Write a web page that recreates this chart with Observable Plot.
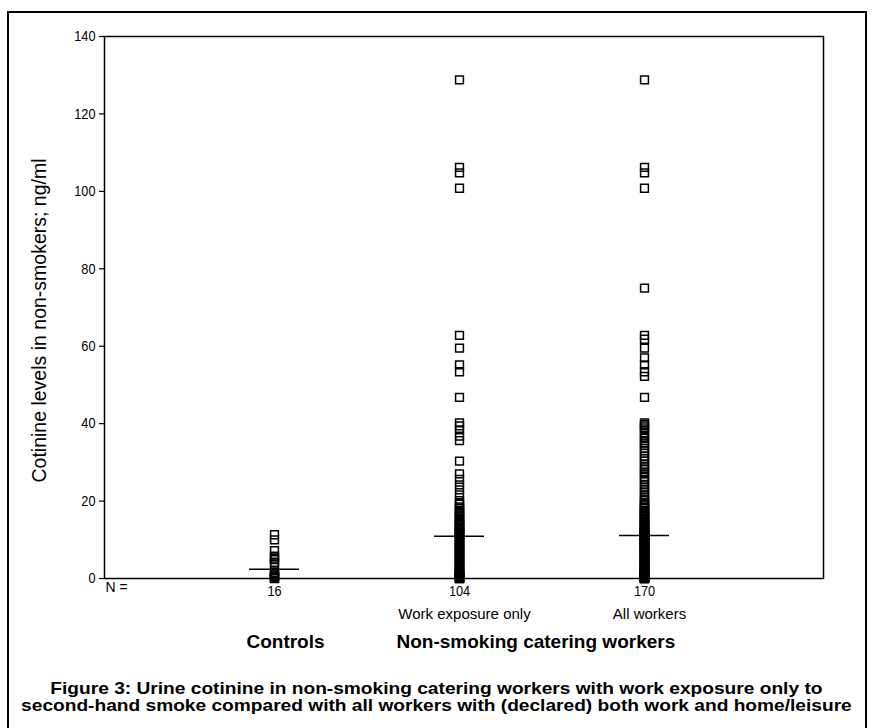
<!DOCTYPE html>
<html><head><meta charset="utf-8">
<script src="https://cdn.jsdelivr.net/npm/d3@7"></script>
<script src="https://cdn.jsdelivr.net/npm/@observablehq/plot@0.6"></script>
<style>
body{margin:0;background:#fff;}
#wrap{position:relative;width:873px;height:728px;overflow:hidden;font-family:"Liberation Sans",Arial,sans-serif;color:#000;}
#frame{position:absolute;left:7px;top:11px;width:856px;height:760px;border:2px solid #000;pointer-events:none;}
#chart{position:absolute;left:0;top:0;}
#caption{position:absolute;left:0;width:873px;top:680px;text-align:center;font-weight:bold;font-size:16.5px;line-height:17px;white-space:nowrap;transform:scaleX(1.16);transform-origin:437px 0;}
</style></head><body>
<div id="wrap">
<div id="chart"></div>
<div id="caption">Figure 3: Urine cotinine in non-smoking catering workers with work exposure only to<br>second-hand smoke compared with all workers with (declared) both work and home/leisure</div>
<div id="frame"></div>
</div>
<script>
// ---- data ----
const groups = ["Controls", "Work exposure only", "All workers"];
const groupN = [16, 104, 170];
const subLabels = ["", "Work exposure only", "All workers"];
const medians = [2.4, 10.9, 11.1];
const yTicks = [0, 20, 40, 60, 80, 100, 120, 140];
const yLabel = "Cotinine levels in non-smokers; ng/ml";
const headings = ["Controls", "Non-smoking catering workers"];
const headingAt = ["Controls", "Work exposure only"];

const controls = [11.3, 10.0, 7.2, 5.8, 5.3, 4.9, 4.2, 3.7, 1.6, 1.2, 0.9, 0.6, 0.4, 0.3, 0.1, 0.0];

const workOnly = [
  128.8, 106.2, 104.8, 100.8, 62.8, 59.5, 55.2, 53.4, 46.8, 40.2,
  39.4, 38.4, 36.8, 35.6, 30.3, 27.0, 25.6, 24.2, 22.9, 21.6,
  20.1, 19.4, 19.2, 18.5, 18.1, 17.6, 17.0, 16.8, 16.1, 15.9,
  15.3, 15.0, 14.8, 14.2, 14.0, 13.7, 13.3, 13.1, 12.8, 12.7,
  12.3, 12.0, 12.0, 11.8, 11.6, 11.4, 11.2, 11.0, 17.4, 16.5,
  14.6, 13.9,
  10.8, 10.5, 10.3, 10.0, 9.8, 9.6, 9.2, 9.0, 8.7, 8.5,
  8.1, 8.0, 7.7, 7.4, 7.2, 7.0, 6.6, 6.4, 6.1, 5.9,
  5.7, 5.3, 5.0, 4.8, 4.6, 4.2, 4.0, 3.8, 3.5, 3.3,
  3.0, 2.8, 2.5, 2.3, 2.1, 1.8, 1.6, 1.4, 1.2, 1.0,
  0.9, 0.7, 0.6, 0.5, 0.4, 0.3, 0.2, 0.2, 0.1, 0.1,
  0.0, 0.0
];

// workers who also declared home/leisure exposure
const homeLeisureExtra = [
  75.0, 61.8, 57.0, 52.2,
  39.8, 38.9, 37.5, 36.2, 35.0, 34.4, 33.6, 33.0, 32.3, 31.6,
  31.0, 29.5, 28.8, 28.1, 27.4, 26.3, 25.1, 23.6, 22.4, 21.1,
  20.4, 19.0, 18.3, 17.2, 16.3, 15.6, 14.4, 13.4, 12.5, 11.9, 11.5, 11.1, 11.3,
  10.9, 10.6, 10.1, 9.5, 9.1, 8.8, 8.3, 7.9, 7.5, 6.9,
  6.3, 5.6, 5.1, 4.4, 3.9, 3.4, 2.9, 2.6, 2.2, 1.9,
  1.5, 1.1, 0.8, 0.6, 0.4, 0.3, 0.2, 0.1, 0.0
];
const allWorkers = workOnly.concat(homeLeisureExtra);

// ---- tables for the library ----
const series = [controls, workOnly, allWorkers];
const points = groups.flatMap((g, i) => series[i].map(v => ({group: g, value: v})));
const medianRows = groups.map((g, i) => ({group: g, value: medians[i]}));
const subRows = groups.map((g, i) => ({group: g, text: subLabels[i]}));
const headRows = headings.map((h, i) => ({group: headingAt[i], text: h, first: i === 0}));
const nOf = new Map(groups.map((g, i) => [g, String(groupN[i])]));

const font = '"Liberation Sans",Arial,sans-serif';

const chart = Plot.plot({
  width: 873,
  height: 670,
  marginLeft: 104,
  marginRight: 50,
  marginTop: 36,
  marginBottom: 92,
  style: {fontFamily: font, fontSize: "15px", color: "#000", background: "transparent"},
  x: {type: "band", domain: groups, paddingInner: 0.73, paddingOuter: 0.8, align: 0.485},
  y: {domain: [0, 140]},
  marks: [
    Plot.frame({stroke: "#000", strokeWidth: 1.5}),
    Plot.axisY({ticks: yTicks, tickSize: 5, tickPadding: 4, label: null, strokeWidth: 1.2}),
    Plot.axisX({tickSize: 4, tickPadding: 3, label: null, tickFormat: d => nOf.get(d)}),
    Plot.text([yLabel], {frameAnchor: "left", textAnchor: "middle", rotate: -90, dx: -65, dy: 13, fontSize: 19.5}),
    Plot.text(["N ="], {frameAnchor: "bottom-left", textAnchor: "start", lineAnchor: "middle", dx: 1, dy: 9, fontSize: 14}),
    Plot.text(subRows, {x: "group", text: "text", frameAnchor: "bottom", lineAnchor: "bottom", dx: 5, dy: 40, fontSize: 15}),
    Plot.text(headRows.filter(d => d.first), {x: "group", text: "text", frameAnchor: "bottom", lineAnchor: "bottom", dx: 11, dy: 69, fontSize: 19, fontWeight: "bold"}),
    Plot.text(headRows.filter(d => !d.first), {x: "group", text: "text", frameAnchor: "bottom", lineAnchor: "bottom", textAnchor: "start", dx: -63, dy: 69, fontSize: 19, fontWeight: "bold"}),
    Plot.dot(points, {x: "group", y: "value", symbol: "square", r: 4.4, stroke: "#000", strokeWidth: 1.5, fill: "none"}),
    Plot.tickY(medianRows, {x: "group", y: "value", stroke: "#000", strokeWidth: 1.5})
  ]
});
// tick labels: larger, with the original's condensed digits
chart.querySelectorAll('g[aria-label$="tick label"]').forEach(g => {
  g.setAttribute("font-size", "15");
  g.style.fontSize = "15px";
  g.querySelectorAll("text").forEach(t => {
    t.setAttribute("transform", (t.getAttribute("transform") || "") + " scale(0.85,1)");
  });
});
document.getElementById("chart").appendChild(chart);
</script>
</body></html>
